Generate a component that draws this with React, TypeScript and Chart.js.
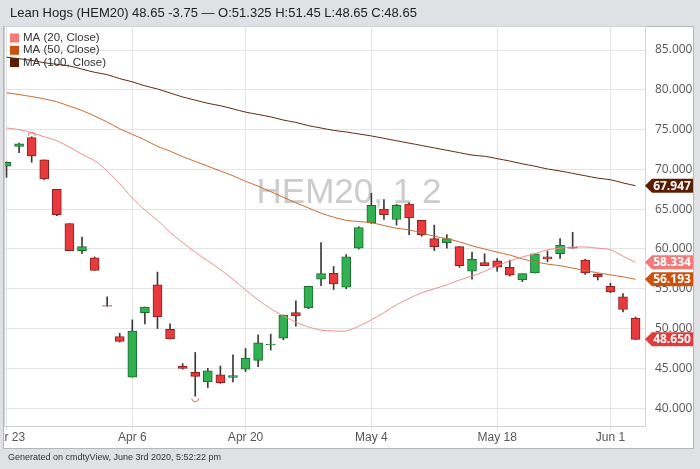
import { useEffect, useRef } from "react";
import { Chart, registerables } from "chart.js";

Chart.register(...registerables);

const dates = ["Mar 23","Mar 24","Mar 25","Mar 26","Mar 27","Mar 30","Mar 31","Apr 1","Apr 2","Apr 3","Apr 6","Apr 7","Apr 8","Apr 9","Apr 13","Apr 14","Apr 15","Apr 16","Apr 17","Apr 20","Apr 21","Apr 22","Apr 23","Apr 24","Apr 27","Apr 28","Apr 29","Apr 30","May 1","May 4","May 5","May 6","May 7","May 8","May 11","May 12","May 13","May 14","May 15","May 18","May 19","May 20","May 21","May 22","May 26","May 27","May 28","May 29","Jun 1","Jun 2","Jun 3"];

const opens = [70.4,72.9,74.0,71.2,67.5,63.2,59.8,58.9,52.9,49.0,43.9,52.0,55.5,49.9,45.3,44.5,43.3,44.2,43.85,44.9,46.0,47.95,48.8,52.0,52.6,56.2,56.95,55.2,60.1,63.3,65.0,63.7,65.65,63.6,61.3,60.8,60.3,57.2,58.3,58.5,57.7,56.1,57.0,59.0,59.4,60.2,58.6,56.8,55.3,54.0,51.325];
const highs = [70.95,73.3,74.1,71.2,67.5,63.2,61.5,59.0,54.0,49.4,51.1,52.7,57.1,50.6,45.6,47.0,45.0,45.3,46.7,47.5,49.2,49.3,51.7,53.5,55.3,60.8,57.8,59.3,62.8,67.0,66.2,65.6,65.8,63.6,63.0,61.8,60.3,59.6,59.4,58.8,58.6,56.9,59.4,59.75,61.3,62.1,58.7,56.9,55.7,54.4,51.45];
const lows = [69.0,72.1,70.9,68.7,64.2,59.8,59.4,57.3,52.8,48.3,43.9,50.6,50.0,48.7,44.9,41.5,42.6,43.1,43.3,44.6,45.2,47.3,48.6,50.3,52.5,55.4,54.9,55.0,60.0,63.2,63.7,63.0,61.8,61.6,59.8,60.1,57.7,56.2,57.9,57.2,56.6,55.9,57.0,58.4,58.8,60.1,56.8,56.1,54.5,52.1,48.65];
const closes = [70.9,73.2,71.7,68.8,64.3,59.8,60.3,57.3,52.8,48.4,49.7,52.7,51.5,48.7,45.0,44.0,44.7,43.2,44.1,46.3,48.2,48.05,51.7,51.6,55.3,56.9,55.6,59.0,62.7,65.5,64.3,65.5,63.9,61.8,60.3,61.3,57.9,58.7,57.9,57.7,56.7,56.9,59.4,58.75,60.5,60.1,57.0,56.5,54.6,52.4,48.65];

const ma20 = [75.2,75.0,74.6,74.1,73.6,72.8,71.9,71.1,69.8,68.2,66.4,64.9,63.6,62.1,60.8,59.6,58.5,57.4,56.2,54.85,53.6,52.5,51.6,50.8,50.2,49.8,49.7,49.7,50.3,51.1,52.0,53.0,53.8,54.5,55.0,55.5,56.1,56.6,57.2,57.9,58.5,59.0,59.4,59.9,60.1,60.25,60.25,60.1,59.9,59.1,58.334];
const ma50 = [79.64,79.4,79.15,78.85,78.5,77.95,77.4,76.7,75.95,75.1,74.4,73.7,72.9,72.3,71.6,71.0,70.4,69.8,69.2,68.5,67.9,67.2,66.5,65.8,65.15,64.5,64.0,63.6,63.45,63.3,62.95,62.6,62.4,62.0,61.6,61.3,60.9,60.4,60.0,59.6,59.25,58.75,58.4,58.1,57.9,57.6,57.3,57.0,56.75,56.5,56.193];
const ma100 = [84.1,83.9,83.7,83.4,83.2,83.0,82.6,82.2,81.9,81.4,81.0,80.5,80.1,79.6,79.1,78.7,78.3,78.0,77.6,77.2,76.9,76.6,76.2,75.9,75.5,75.2,74.9,74.7,74.45,74.2,73.9,73.6,73.3,73.0,72.7,72.4,72.1,71.8,71.65,71.35,71.05,70.7,70.4,70.05,69.8,69.5,69.2,68.9,68.7,68.3,67.947];

const xTickDates = ["Mar 23","Apr 6","Apr 20","May 4","May 18","Jun 1"];
const maLabels = ["MA (20, Close)","MA (50, Close)","MA (100, Close)"];
const titleText = "Lean Hogs (HEM20) 48.65 -3.75 \u2014 O:51.325 H:51.45 L:48.65 C:48.65";
const footerText = "Generated on cmdtyView, June 3rd 2020, 5:52:22 pm";
const watermarkText = "HEM20, 1 2";

const FONT = '"Liberation Sans", Arial, Helvetica, sans-serif';
const AXIS_FONT = '"Open Sans", "Liberation Sans", sans-serif';
const MA_LINE = ["#ef8e8e", "#c96c30", "#5e2a12"];
const MA_TAG = ["#f47a7a", "#c9520f", "#5b1c03"];
const UP = "#2fb24f", UP_B = "#1d6a31", DN = "#e83a3d", DN_B = "#8c1f1f";
const LAST_TAG = "#e03c3c";

export default function App() {
  const ref = useRef<HTMLCanvasElement>(null);
  useEffect(() => {
    const idx = dates.map((_, i) => i);
    const xTickIdx = xTickDates.map((d) => dates.indexOf(d));
    const isUp = idx.map((i) => closes[i] >= opens[i]);

    const chromePlugin = {
      id: "chrome",
      beforeDraw(chart: any) {
        const { ctx, width, height } = chart;
        ctx.save();
        ctx.fillStyle = "#dfe1e4";
        ctx.fillRect(0, 0, width, height);
        ctx.fillStyle = "#ffffff";
        ctx.fillRect(3, 26, 691, 423);
        ctx.strokeStyle = "#b3b7bc";
        ctx.lineWidth = 1;
        ctx.strokeRect(3.5, 26.5, 690, 422);
        ctx.fillStyle = "#222";
        ctx.font = `13px ${FONT}`;
        ctx.textBaseline = "middle";
        ctx.fillText(titleText, 10, 13);
        ctx.font = `9px ${FONT}`;
        ctx.fillStyle = "#333";
        ctx.fillText(footerText, 8, 458);
        ctx.restore();
      },
      beforeDatasetsDraw(chart: any) {
        const { ctx, chartArea: a } = chart;
        ctx.save();
        ctx.font = `35px ${FONT}`;
        ctx.fillStyle = "#cccccc";
        ctx.textAlign = "center";
        ctx.textBaseline = "alphabetic";
        ctx.fillText(watermarkText, 349, 203);
        ctx.strokeStyle = "#cfd1d4";
        ctx.lineWidth = 1;
        ctx.strokeRect(a.left - 0.5, a.top - 0.5, a.right - a.left + 1, a.bottom - a.top + 1);
        ctx.restore();
      },
      afterDatasetsDraw(chart: any) {
        const { ctx } = chart;
        const xs = chart.scales.x, ys = chart.scales.y;
        let hi = 0, lo = 0;
        idx.forEach((i) => { if (highs[i] > highs[hi]) hi = i; if (lows[i] < lows[lo]) lo = i; });
        ctx.save();
        ctx.strokeStyle = "#e06a6a";
        ctx.lineWidth = 1;
        ctx.beginPath();
        ctx.arc(xs.getPixelForValue(hi), ys.getPixelForValue(highs[hi]) - 1, 3.5, Math.PI, 2 * Math.PI);
        ctx.stroke();
        ctx.beginPath();
        ctx.arc(xs.getPixelForValue(lo), ys.getPixelForValue(lows[lo]) + 2, 3.5, 0, Math.PI);
        ctx.stroke();
        ctx.restore();
      },
      afterDraw(chart: any) {
        const { ctx } = chart;
        const xs = chart.scales.x, ys = chart.scales.y;
        // x labels
        ctx.save();
        ctx.beginPath();
        ctx.rect(4, 427, 689, 20);
        ctx.clip();
        ctx.font = `12px "Liberation Sans Narrow", ${FONT}`;
        ctx.fillStyle = "#555";
        ctx.textAlign = "center";
        ctx.textBaseline = "middle";
        xTickIdx.forEach((v, k) => ctx.fillText(xTickDates[k], xs.getPixelForValue(v), 438));
        ctx.restore();
        // legend
        ctx.save();
        ctx.font = `11.5px ${FONT}`;
        ctx.textBaseline = "middle";
        maLabels.forEach((l, k) => {
          const y = 38 + k * 12.3;
          ctx.fillStyle = MA_TAG[k];
          ctx.fillRect(10, y - 4.5, 9, 9);
          ctx.fillStyle = "#333";
          ctx.fillText(l, 23, y);
        });
        ctx.restore();
        // price tags
        const tags = [
          { v: ma100[ma100.length - 1], c: MA_TAG[2] },
          { v: ma20[ma20.length - 1], c: MA_TAG[0] },
          { v: ma50[ma50.length - 1], c: MA_TAG[1] },
          { v: closes[closes.length - 1], c: LAST_TAG },
        ];
        ctx.save();
        ctx.font = `bold 12px ${AXIS_FONT}`;
        ctx.textAlign = "center";
        ctx.textBaseline = "middle";
        tags.forEach((t) => {
          const y = ys.getPixelForValue(t.v);
          ctx.fillStyle = t.c;
          ctx.beginPath();
          ctx.moveTo(645, y);
          ctx.lineTo(652, y - 7);
          ctx.lineTo(693, y - 7);
          ctx.lineTo(693, y + 7);
          ctx.lineTo(652, y + 7);
          ctx.closePath();
          ctx.fill();
          ctx.fillStyle = "#fff";
          ctx.fillText(t.v.toFixed(3), 672, y + 0.5);
        });
        ctx.restore();
      },
    };

    const line = (data: number[], k: number) => ({
      type: "line" as const,
      label: maLabels[k],
      data: idx.map((i) => ({ x: i, y: data[i] })),
      borderColor: MA_LINE[k],
      borderWidth: 1,
      pointRadius: 0,
      tension: 0.3,
      order: 0,
    });

    const chart = new Chart(ref.current!, {
      type: "bar",
      data: {
        datasets: [
          line(ma20, 0),
          line(ma50, 1),
          line(ma100, 2),
          {
            type: "bar",
            label: "wick",
            data: idx.map((i) => ({ x: i, y: [lows[i], highs[i]] })) as any,
            backgroundColor: "#3a3a3a",
            barThickness: 1,
            grouped: false,
            order: 2,
          },
          {
            type: "bar",
            label: "body",
            data: idx.map((i) => ({ x: i, y: [opens[i], closes[i]] })) as any,
            backgroundColor: idx.map((i) => (isUp[i] ? UP : DN)),
            borderColor: idx.map((i) => (isUp[i] ? UP_B : DN_B)),
            borderWidth: 1,
            borderSkipped: false,
            barThickness: 9,
            grouped: false,
            order: 1,
          },
        ] as any,
      },
      options: {
        animation: false,
        responsive: false,
        maintainAspectRatio: false,
        devicePixelRatio: 1,
        layout: { padding: { left: 5, top: 27, right: 0, bottom: 0 } },
        plugins: { legend: { display: false }, tooltip: { enabled: false } },
        scales: {
          x: {
            type: "linear",
            min: -0.12,
            max: 50.75,
            offset: false,
            afterBuildTicks: (s: any) => { s.ticks = xTickIdx.map((v) => ({ value: v })); },
            afterFit: (s: any) => { s.height = 43; },
            ticks: { display: false },
            grid: { color: "#e3e4e6", offset: false, drawTicks: true, tickLength: 5 },
            border: { display: false },
          },
          y: {
            position: "right",
            min: 37.76,
            max: 87.89,
            afterFit: (s: any) => { s.width = 55; },
            ticks: {
              stepSize: 5,
              includeBounds: false,
              padding: 10,
              color: "#555",
              font: { family: AXIS_FONT, size: 12 },
              callback: (v: any) => Number(v).toFixed(3),
            },
            grid: { color: "#e3e4e6", drawTicks: false },
            border: { display: false },
          },
        },
      } as any,
      plugins: [chromePlugin],
    });
    return () => chart.destroy();
  }, []);

  return (
    <div style={{ position: "fixed", left: 0, top: 0, width: 700, height: 469 }}>
      <canvas ref={ref} width={700} height={469} style={{ display: "block", width: 700, height: 469 }} />
    </div>
  );
}
